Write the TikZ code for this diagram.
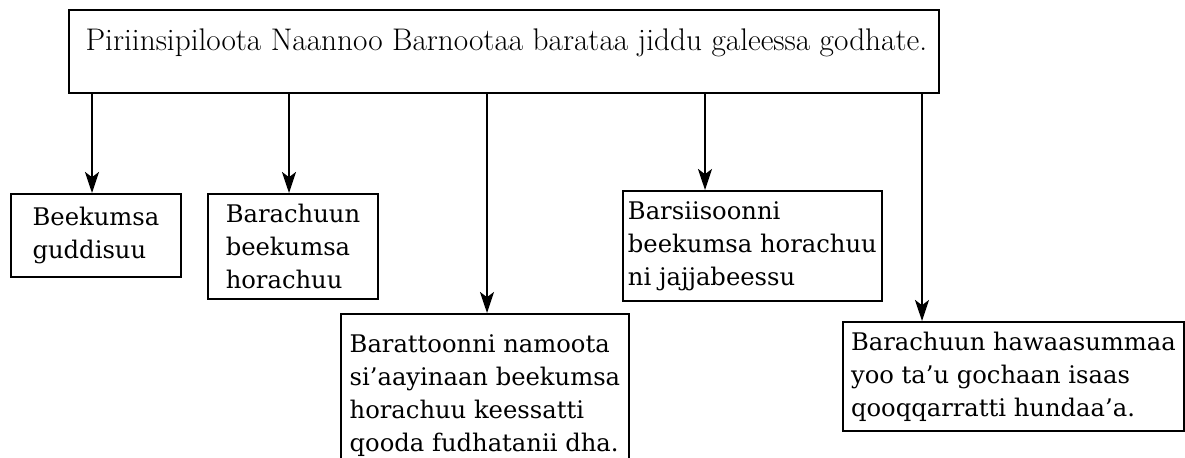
\documentclass[tikz,border=0pt]{standalone}
\usepackage{fontspec}
\usepackage{tikz}
\usetikzlibrary{arrows.meta,positioning}
\newfontfamily\leaffont{DejaVu Serif}

\begin{document}
\begin{tikzpicture}[x=0.02cm, y=-0.02cm,
  topbox/.style={
    draw, line width=1.1pt, anchor=north west, minimum width=17.4cm,
    minimum height=1.66cm, text height=0.4cm, text depth=0.42cm,
    font=\fontsize{17.8}{21}\selectfont
  },
  leaf/.style={
    draw, line width=1.1pt, anchor=north west, align=left, inner xsep=0.1cm,
    font=\leaffont\fontsize{13.8}{18.8}\selectfont
  },
  arr/.style={-{Stealth[length=12pt, width=8pt, inset=3pt]}, line width=1.1pt}
]
\useasboundingbox (0,0) rectangle (1185,457);
\node[topbox] (top) at (68,9)
  {\hspace*{0.1cm}Piriinsipiloota Naannoo Barnootaa barataa jiddu galeessa godhate.};
\node[leaf, minimum width=3.4cm, minimum height=1.66cm] (guddisuu) at (10,193)
  {Beekumsa\\guddisuu};
\node[leaf, minimum width=3.4cm, minimum height=2.1cm] (barachuun) at (207,193)
  {Barachuun\\beekumsa\\horachuu};
\node[leaf, minimum width=5.76cm, inner ysep=0.42cm] (barattoonni) at (340,313)
  {Barattoonni namoota\\si’aayinaan beekumsa\\horachuu keessatti\\qooda fudhatanii dha.};
\node[leaf, minimum width=5.16cm, minimum height=2.2cm] (barsiisoonni) at (622,190)
  {Barsiisoonni\\beekumsa horachuu\\ni jajjabeessu};
\node[leaf, minimum width=6.82cm, minimum height=2.18cm] (hawaasa) at (842,321)
  {Barachuun hawaasummaa\\yoo ta’u gochaan isaas\\qooqqarratti hundaa’a.};
% arrow columns
\coordinate (c1) at (92,0);
\coordinate (c2) at (289,0);
\coordinate (c3) at (487,0);
\coordinate (c4) at (705,0);
\coordinate (c5) at (922,0);
\draw[arr] (top.south -| c1) -- (guddisuu.north -| c1);
\draw[arr] (top.south -| c2) -- (barachuun.north -| c2);
\draw[arr] (top.south -| c3) -- (barattoonni.north -| c3);
\draw[arr] (top.south -| c4) -- (barsiisoonni.north -| c4);
\draw[arr] (top.south -| c5) -- (hawaasa.north -| c5);
\end{tikzpicture}
\end{document}
